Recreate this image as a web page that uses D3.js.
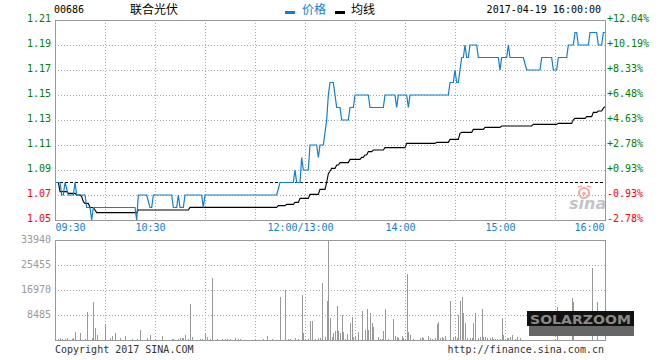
<!DOCTYPE html>
<html><head><meta charset="utf-8">
<script src="https://cdn.jsdelivr.net/npm/d3@7"></script>
<style>body{margin:0;background:#fff}svg{display:block}</style>
</head><body>
<svg id="c" width="660" height="360"></svg>
<script>
// ---------- data ----------
const stockCode = "00686";
const stockName = "联合光伏";
const stamp = "2017-04-19 16:00:00";
const legendNames = ["价格", "均线"];
const prevClose = 1.08;
const priceTicks = [1.21, 1.19, 1.17, 1.15, 1.13, 1.11, 1.09, 1.07, 1.05];
const pctLabels = ["+12.04%", "+10.19%", "+8.33%", "+6.48%", "+4.63%", "+2.78%", "+0.93%", "-0.93%", "-2.78%"];
const volTicks = [33940, 25455, 16970, 8485];
const timeTicks = [0, 60, 150, 210, 270, 330];
const timeLabels = ["09:30", "10:30", "12:00/13:00", "14:00", "15:00", "16:00"];
const gridTimes = [30, 60, 90, 120, 150, 180, 210, 240, 270, 300];
const copyright = "Copyright 2017 SINA.COM";
const siteUrl = "http://finance.sina.com.cn";

// [trading minute since 09:30, price]
const priceLine = [[0,1.08],[3,1.08],[4,1.07],[5,1.07],[6,1.08],[7,1.075],[8,1.07],[11,1.07],[12,1.08],[13,1.07],[18,1.07],[19,1.06],[21,1.06],[22,1.05],[23,1.06],[48,1.06],[49,1.05],[50,1.07],[55,1.07],[57,1.06],[58,1.06],[59,1.07],[70,1.07],[71,1.06],[73,1.06],[74,1.07],[75,1.06],[77,1.06],[78,1.07],[88,1.07],[89,1.06],[90,1.07],[133,1.07],[135,1.08],[143,1.08],[144,1.09],[145,1.08],[147,1.08],[148,1.10],[149,1.09],[152,1.09],[153,1.11],[157,1.11],[158,1.10],[159,1.11],[161,1.11],[162,1.12],[163,1.13],[164,1.15],[165,1.16],[167,1.16],[168,1.15],[169,1.14],[171,1.14],[172,1.13],[176,1.13],[177,1.14],[179,1.14],[180,1.15],[188,1.15],[189,1.14],[197,1.14],[198,1.15],[204,1.15],[205,1.14],[206,1.15],[211,1.15],[212,1.14],[213,1.15],[236,1.15],[237,1.16],[239,1.16],[240,1.17],[241,1.16],[242,1.16],[243,1.17],[244,1.18],[245,1.18],[246,1.19],[247,1.18],[248,1.18],[249,1.19],[253,1.19],[254,1.18],[266,1.18],[267,1.17],[268,1.18],[271,1.18],[272,1.19],[273,1.18],[281,1.18],[283,1.17],[291,1.17],[292,1.18],[298,1.18],[299,1.17],[301,1.17],[302,1.18],[307,1.18],[308,1.19],[311,1.19],[312,1.20],[313,1.20],[314,1.19],[320,1.19],[321,1.20],[325,1.20],[326,1.19],[328,1.19],[329,1.20],[330,1.20]];

const avgLine = [[0,1.08],[2,1.08],[3,1.0727],[7,1.0727],[8,1.0713],[12,1.0713],[13,1.07],[15,1.07],[16,1.0687],[17,1.0647],[18,1.0633],[20,1.0633],[21,1.06],[23,1.06],[24,1.058],[25,1.0559],[49,1.0559],[50,1.058],[80,1.058],[81,1.0601],[133,1.0601],[134,1.0615],[138,1.0615],[139,1.0625],[143,1.0625],[144,1.0641],[146,1.0641],[147,1.0673],[152,1.0673],[153,1.0705],[158,1.0705],[159,1.0745],[162,1.0745],[163,1.08],[164,1.087],[165,1.089],[166,1.0913],[168,1.0913],[169,1.094],[170,1.094],[171,1.0959],[176,1.0959],[177,1.0985],[183,1.0985],[184,1.1001],[185,1.1001],[186,1.102],[187,1.102],[188,1.1047],[190,1.1047],[191,1.106],[197,1.106],[198,1.1079],[210,1.1079],[211,1.1113],[228,1.1113],[229,1.1121],[236,1.1121],[237,1.1145],[242,1.1145],[243,1.1193],[244,1.1201],[250,1.1201],[251,1.1225],[257,1.1225],[258,1.1241],[267,1.1241],[268,1.1252],[286,1.1252],[287,1.1265],[301,1.1265],[302,1.1273],[310,1.1273],[311,1.1302],[312,1.1313],[318,1.1313],[319,1.1327],[322,1.1327],[323,1.1361],[325,1.1361],[326,1.1372],[328,1.1372],[329,1.1395],[330,1.1407]];

// [trading minute, volume]
const volumes = [[2,340],[3,790],[4,450],[6,450],[7,790],[10,450],[11,680],[12,2710],[15,2380],[18,450],[19,9500],[22,680],[23,12900],[24,4070],[25,1700],[30,5000],[33,680],[34,1360],[36,2380],[39,680],[42,1360],[46,340],[49,340],[51,3390],[55,790],[57,1700],[60,340],[64,1360],[70,340],[71,340],[74,450],[75,790],[76,680],[77,560],[78,1700],[80,450],[81,12200],[82,1020],[87,340],[88,340],[90,1920],[91,1020],[93,450],[94,21040],[97,340],[100,340],[102,340],[103,340],[105,340],[108,680],[110,340],
[111,340],[125,450],[127,1360],[130,450],[135,14590],[138,16970],[140,450],[141,450],[144,680],[146,450],[148,15270],[149,2380],[152,450],[153,6560],[154,6560],[156,450],[158,680],[159,680],[160,19340],[162,1020],[163,13180],[164,33940],[165,7460],[166,1020],[167,2380],[168,3050],[169,11540],[170,3050],[171,2380],[172,8480],[173,2710],[174,450],[175,2040],[177,5770],[178,7800],[179,1020],[180,1360],[182,2710],[184,9840],[186,3390],[187,10520],[188,3390],[189,9160],[190,5770],[191,4410],[194,1020],[195,340],[196,340],[197,3050],[198,10520],[200,340],[203,7130],[204,1360],[205,1020],[206,680],[208,1360],[209,680],[210,340],[211,22390],[212,2710],[213,1700],[215,340],[219,680],[220,1020],[221,680],
[224,1360],[225,680],[226,340],[228,680],[229,5430],[230,6110],[231,680],[232,1020],[233,680],[234,1360],[237,13180],[239,1020],[240,1360],[241,680],[242,8480],[243,13180],[244,14590],[245,9160],[246,5770],[247,680],[249,680],[250,680],[251,5770],[252,9160],[254,680],[255,1020],[256,10520],[257,1020],[258,1020],[259,680],[261,680],[262,1020],[263,340],[264,340],[265,340],[267,340],[268,7470],[269,1700],[271,680],[272,680],[273,1020],[274,1700],[276,340],[277,1020],[279,680],[301,11300],[310,14360],[311,12800],[322,24500],[325,12800],[330,24900]];

// ---------- drawing ----------
const BLUE = "#0f7fd0", GREEN = "#008000", RED = "#ff0000", GRAY = "#999";
const MONO = "'DejaVu Sans Mono', 'Liberation Mono', monospace";
const CJK = "'Noto Sans CJK SC', sans-serif";

const svg = d3.select("#c");
const x = d3.scaleLinear().domain([0, 330]).range([55, 605]);
const y = d3.scaleLinear().domain([1.05, 1.21]).range([220, 20]);
const yv = d3.scaleLinear().domain([0, 33940]).range([340, 240]);
const px = v => Math.round(v) + 0.5;

// gridlines
const grid = svg.append("g").attr("stroke", "#aaa").attr("stroke-dasharray", "1,2").attr("shape-rendering", "crispEdges");
grid.selectAll(".hp").data(priceTicks.slice(1, -1)).join("line").attr("class","hp")
  .attr("x1", 55).attr("x2", 605).attr("y1", d => px(y(d))).attr("y2", d => px(y(d)));
grid.selectAll(".hv").data(volTicks.slice(1)).join("line").attr("class","hv")
  .attr("x1", 55).attr("x2", 605).attr("y1", d => px(yv(d))).attr("y2", d => px(yv(d)));
grid.selectAll(".vp").data(gridTimes).join("line").attr("class","vp")
  .attr("x1", d => px(x(d))).attr("x2", d => px(x(d))).attr("y1", 20).attr("y2", 220);
grid.selectAll(".vv").data(gridTimes).join("line").attr("class","vv")
  .attr("x1", d => px(x(d))).attr("x2", d => px(x(d))).attr("y1", 240).attr("y2", 340);

// volume bars
svg.append("g").attr("fill", GRAY).attr("shape-rendering", "crispEdges")
  .selectAll("rect").data(volumes).join("rect")
  .attr("x", d => Math.round(x(d[0]))).attr("width", 1)
  .attr("y", d => yv(d[1])).attr("height", d => yv(0) - yv(d[1]));

// prev close dashed line
svg.append("line").attr("x1", 55).attr("x2", 605)
  .attr("y1", px(y(prevClose))).attr("y2", px(y(prevClose)))
  .attr("stroke", "#000").attr("stroke-dasharray", "3,2").attr("shape-rendering", "crispEdges");

// sina watermark
const wm = svg.append("g");
wm.append("circle").attr("cx", 584).attr("cy", 193).attr("r", 5).attr("fill", "none").attr("stroke", "#f4a9a9").attr("stroke-width", 2.2);
wm.append("circle").attr("cx", 584).attr("cy", 193.5).attr("r", 1.8).attr("fill", "#f4a9a9");
wm.append("path").attr("d", "M578,187 L582,186 M587,186 L591,187").attr("stroke", "#f4a9a9").attr("stroke-width", 1.5);
wm.append("text").attr("x", 569).attr("y", 209).attr("font-family", "'DejaVu Sans', sans-serif")
  .attr("font-size", 16).attr("font-weight", "bold").attr("font-style", "italic").attr("fill", "#c4c4c4").text("sina");

// lines
const line = d3.line().x(d => x(d[0])).y(d => y(d[1]));
svg.append("path").datum(avgLine).attr("d", line).attr("fill", "none").attr("stroke", "#000").attr("stroke-width", 1.1);
svg.append("path").datum(priceLine).attr("d", line).attr("fill", "none").attr("stroke", BLUE).attr("stroke-width", 1.2);

// borders
const border = svg.append("g").attr("fill", "none").attr("stroke", GRAY).attr("shape-rendering", "crispEdges");
border.append("rect").attr("x", 55.5).attr("y", 20.5).attr("width", 550).attr("height", 200);
border.append("rect").attr("x", 55.5).attr("y", 240.5).attr("width", 550).attr("height", 100);

// axes
function styleAxis(g) {
  g.attr("font-family", MONO).attr("font-size", 10);
  g.select(".domain").remove();
  g.selectAll(".tick line").remove();
}
const axL = svg.append("g").attr("transform", "translate(55,0)")
  .call(d3.axisLeft(y).tickValues(priceTicks).tickSize(0).tickPadding(4).tickFormat(d3.format(".2f")));
styleAxis(axL);
axL.selectAll("text").attr("dy", "0").attr("y", 1).attr("fill", d => d >= prevClose ? GREEN : RED);

const axR = svg.append("g").attr("transform", "translate(605,0)")
  .call(d3.axisRight(y).tickValues(priceTicks).tickSize(0).tickPadding(2).tickFormat((d, i) => pctLabels[i]));
styleAxis(axR);
axR.selectAll("text").attr("dy", "0").attr("y", 1).attr("fill", d => d >= prevClose ? GREEN : RED);

const axV = svg.append("g").attr("transform", "translate(55,0)")
  .call(d3.axisLeft(yv).tickValues(volTicks).tickSize(0).tickPadding(4).tickFormat(d3.format("d")));
styleAxis(axV);
axV.selectAll("text").attr("dy", "0").attr("y", 2).attr("fill", GRAY);

const axT = svg.append("g").attr("transform", "translate(0,220)")
  .call(d3.axisBottom(x).tickValues(timeTicks).tickSize(0).tickPadding(0).tickFormat((d, i) => timeLabels[i]));
styleAxis(axT);
axT.selectAll("text").attr("dy", "0").attr("y", 11).attr("fill", BLUE)
  .attr("text-anchor", (d, i) => i === 0 ? "start" : (i === timeTicks.length - 1 ? "end" : "middle"))
  .attr("dx", (d, i) => i === 0 ? 0 : (i === timeTicks.length - 1 ? -1 : -5));

// header
svg.append("text").attr("x", 54).attr("y", 13).attr("font-family", MONO).attr("font-size", 10).attr("fill", "#000").text(stockCode);
svg.append("text").attr("x", 130).attr("y", 14).attr("font-family", CJK).attr("font-size", 12).attr("fill", "#000").text(stockName);
svg.append("rect").attr("x", 285).attr("y", 11).attr("width", 10).attr("height", 3).attr("fill", BLUE);
svg.append("text").attr("x", 302).attr("y", 14).attr("font-family", CJK).attr("font-size", 12).attr("fill", BLUE).text(legendNames[0]);
svg.append("rect").attr("x", 335).attr("y", 11).attr("width", 10).attr("height", 3).attr("fill", "#000");
svg.append("text").attr("x", 351).attr("y", 14).attr("font-family", CJK).attr("font-size", 12).attr("fill", "#000").text(legendNames[1]);
svg.append("text").attr("x", 601).attr("y", 13).attr("text-anchor", "end").attr("font-family", MONO).attr("font-size", 10).attr("fill", "#000").text(stamp);

// footer
svg.append("text").attr("x", 55).attr("y", 353).attr("font-family", MONO).attr("font-size", 10).attr("fill", "#333").text(copyright);
svg.append("text").attr("x", 604).attr("y", 353).attr("text-anchor", "end").attr("font-family", MONO).attr("font-size", 10).attr("fill", "#333").text(siteUrl);

// SOLARZOOM badge
const sz = svg.append("g");
sz.append("rect").attr("x", 529).attr("y", 326).attr("width", 105).attr("height", 10).attr("fill", "#666");
sz.append("rect").attr("x", 527).attr("y", 311).attr("width", 107).attr("height", 15).attr("fill", "#111");
sz.append("text").attr("x", 530).attr("y", 324).attr("textLength", 101).attr("lengthAdjust", "spacingAndGlyphs")
  .attr("font-family", "'DejaVu Sans', sans-serif").attr("font-weight", "bold").attr("font-size", 13).attr("fill", "#8a8a8a").text("SOLARZOOM");
</script>
</body></html>
